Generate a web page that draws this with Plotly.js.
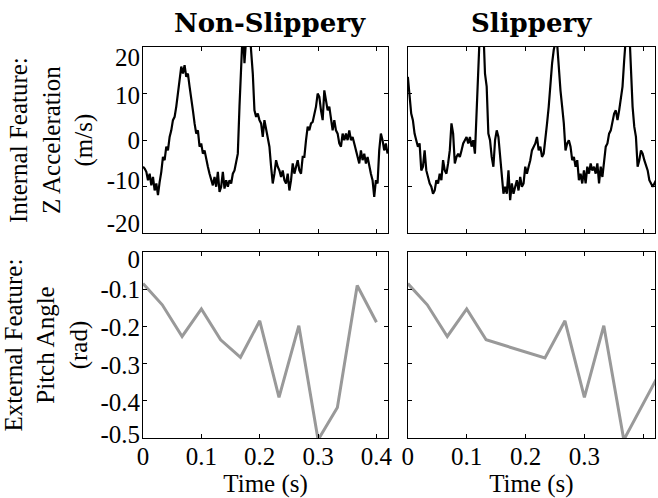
<!DOCTYPE html>
<html>
<head>
<meta charset="utf-8">
<script src="https://cdn.plot.ly/plotly-3.0.1.min.js"></script>
<style>html,body{margin:0;padding:0;background:#fff;}#chart{width:658px;height:498px;}</style>
</head>
<body>
<div id="chart"></div>
<script>
// ---- data ----
const columnTitles = ["Non-Slippery", "Slippery"];
const accSampleDt = 0.00285; // sample interval of the acceleration signal (s)
const accNonSlippery = [
 -5.7,-6.1,-6.8,-8.6,-7.2,-9.7,-7.9,-10.8,-9.3,-11.8,
 -9.0,-6.8,-3.6,-4.3,-1.4,-2.2,0.7,2.1,4.3,5.0,
 7.2,10.0,13.6,15.8,14.3,16.1,13.6,14.3,11.5,9.3,
 6.4,3.6,1.4,2.1,-1.4,-0.7,-2.9,-2.2,-4.3,-5.7,
 -7.2,-8.6,-9.7,-7.9,-10.0,-6.8,-11.1,-10.0,-6.8,-10.4,
 -8.6,-10.0,-8.6,-9.3,-7.2,-6.5,-4.3,-2.9,7.2,14.3,
 24,16.5,27,27,24,18.6,14.3,6.4,5.0,5.7,
 4.3,3.6,0.7,4.3,2.1,0,-1.4,-5.7,-9.3,-7.2,
 -4.3,-5.7,-6.5,-7.9,-6.5,-8.6,-9.3,-7.2,-10.8,-8.6,
 -5.0,-7.2,-5.7,-4.3,-6.5,-7.2,-3.6,-3.6,0,2.9,
 2.1,3.6,3.9,5.7,7.2,10.0,9.3,6.4,4.3,10.7,
 8.6,6.4,7.2,5.0,2.1,4.3,2.1,1.4,-0.7,-1.4,
 1.4,0,1.4,0,2.1,0,0.7,-0.7,-2.2,-3.6,
 -5.0,-2.2,-4.3,-2.9,-5.0,-3.6,-5.7,-7.2,-8.6,-12.2,
 -8.6,-9.3,-2.2,1.4,0,-2.2,-0.7,-2.9
];
const accSlippery = [
 13.6,10.0,5.7,4.3,1.4,0,-1.4,-0.7,-6.5,-5.7,
 -2.2,-6.5,-7.9,-9.3,-10.0,-11.5,-10.8,-8.6,-9.3,-7.2,
 -8.6,-4.3,-6.5,-7.2,-5.0,-2.2,3.6,1.4,-5.0,-3.6,
 -2.9,-3.6,-2.2,-0.7,0,0.7,-0.7,0.7,-1.4,0,
 -2.9,7.2,14.3,24,27,24,14.3,11.5,1.4,0,
 -3.6,-5.7,0,2.1,0.7,-3.6,-8.6,-11.5,-10.0,-11.5,
 -6.5,-12.9,-9.3,-11.5,-10.0,-8.6,-10.8,-7.9,-10.0,-9.3,
 -5.7,-7.2,-5.7,-4.3,-2.2,-1.4,-0.7,0.7,-2.2,-1.4,
 -3.6,-2.9,0,3.6,7.2,12.9,16.5,19.4,21,20.8,
 15.0,10.7,7.2,3.6,-2.2,-0.7,0,-1.4,-4.3,-3.6,
 -5.7,-4.3,-8.6,-7.2,-9.3,-6.5,-9.3,-5.7,-7.2,-5.0,
 -6.5,-5.7,-7.2,-5.0,-9.3,-5.7,-7.9,-5.0,-1.4,-0.7,
 1.4,2.1,4.3,5.7,6.4,4.3,6.4,9.3,11.5,17.2,
 24,27,24,14.3,7.2,2.9,0.7,-5.7,-4.3,-2.2,
 -2.9,-4.3,-5.7,-6.5,-8.6,-9.3,-10.0,-9.3,-8.6
];
const pitchTimeNonSlippery = [0, 0.033, 0.067, 0.1, 0.133, 0.167, 0.2, 0.233, 0.267, 0.3, 0.333, 0.367, 0.4];
const pitchNonSlippery = [-0.085, -0.142, -0.227, -0.153, -0.236, -0.283, -0.185, -0.391, -0.198, -0.505, -0.418, -0.090, -0.189];
const pitchTimeSlippery = [0, 0.033, 0.067, 0.1, 0.133, 0.233, 0.267, 0.3, 0.333, 0.367, 0.433];
const pitchSlippery = [-0.085, -0.142, -0.227, -0.153, -0.236, -0.285, -0.185, -0.391, -0.198, -0.505, -0.31];

const xTickVals = [0, 0.1, 0.2, 0.3, 0.4];
const xTickText = ["0", "0.1", "0.2", "0.3", "0.4"];
const accTickVals = [-20, -10, 0, 10, 20];
const accTickText = ["-20", "-10", "0", "10", "20"];
const pitchTickVals = [-0.5, -0.4, -0.3, -0.2, -0.1, 0];
const pitchTickText = ["-0.5", "-0.4", "-0.3", "-0.2", "-0.1", "0"];
const xTitle = "Time (s)";
const accTitle = "Internal Feature:<br>Z Acceleration<br>(m/s)";
const pitchTitle = "External Feature:<br>Pitch Angle<br>(rad)";

// ---- build ----
const serif = "'Liberation Serif', 'Times New Roman', serif";
const TICK_FONT = {family: serif, size: 25, color: "#000"};
const TITLE_FONT = {family: serif, size: 25, color: "#000"};
const PANEL_H = 186; // px height of a panel, used to nudge labels inward as in the reference
const accRange = [-20, 20], pitchRange = [-0.5, 0];
// label nudges in px (positive = up): the reference keeps its end labels inside the frame
const accLabelNudge = [10, 6, 0, -2, -10];
const pitchLabelNudge = [4, -1, -2, -1, 0, -7];
const nudged = (vals, nudges, range) => vals.map((v, i) => v + nudges[i] * (range[1] - range[0]) / PANEL_H);

const timesFor = arr => arr.map((_, i) => i * accSampleDt);
const traces = [
  {x: timesFor(accNonSlippery), y: accNonSlippery, xaxis: "x", yaxis: "y", type: "scatter", mode: "lines", line: {color: "#000", width: 2.2}},
  {x: timesFor(accSlippery), y: accSlippery, xaxis: "x2", yaxis: "y2", type: "scatter", mode: "lines", line: {color: "#000", width: 2.2}},
  {x: pitchTimeNonSlippery, y: pitchNonSlippery, xaxis: "x3", yaxis: "y3", type: "scatter", mode: "lines", line: {color: "#999999", width: 3}},
  {x: pitchTimeSlippery, y: pitchSlippery, xaxis: "x4", yaxis: "y4", type: "scatter", mode: "lines", line: {color: "#999999", width: 3}},
  // empty carriers so that the label-only overlay axes are drawn
  {x: [], y: [], xaxis: "x", yaxis: "y5", type: "scatter", mode: "lines", hoverinfo: "skip"},
  {x: [], y: [], xaxis: "x3", yaxis: "y6", type: "scatter", mode: "lines", hoverinfo: "skip"}
];
const axBase = {
  showline: true, linecolor: "#000", linewidth: 1, mirror: "ticks",
  ticks: "inside", ticklen: 4, tickcolor: "#000", tickwidth: 1,
  showgrid: false, zeroline: false, tickmode: "array",
  tickfont: TICK_FONT
};
const labelAx = {
  showline: false, ticks: "", showgrid: false, zeroline: false, tickmode: "array",
  tickfont: TICK_FONT, side: "left", fixedrange: true, autorange: false, ticklabelstandoff: 2
};
const xDomL = [0, 0.4788], xDomR = [0.5173, 1];
const yDomT = [0.5235, 1], yDomB = [0, 0.4757];
const layout = {
  width: 658, height: 498,
  margin: {l: 143, r: 3, t: 47, b: 60},
  paper_bgcolor: "#fff", plot_bgcolor: "#fff",
  showlegend: false,
  font: {family: serif, size: 24, color: "#000"},
  xaxis:  Object.assign({}, axBase, {domain: xDomL, anchor: "y",  range: [0, 0.42], tickvals: xTickVals, ticktext: xTickText, showticklabels: false}),
  xaxis2: Object.assign({}, axBase, {domain: xDomR, anchor: "y2", range: [0, 0.42], tickvals: xTickVals, ticktext: xTickText, showticklabels: false}),
  xaxis3: Object.assign({}, axBase, {domain: xDomL, anchor: "y3", range: [0, 0.42], tickvals: xTickVals, ticktext: xTickText, ticklabelstandoff: -4,
            title: {text: xTitle, font: TITLE_FONT, standoff: 7}}),
  xaxis4: Object.assign({}, axBase, {domain: xDomR, anchor: "y4", range: [0, 0.42], tickvals: xTickVals, ticktext: xTickText, ticklabelstandoff: -4,
            title: {text: xTitle, font: TITLE_FONT, standoff: 7}}),
  yaxis:  Object.assign({}, axBase, {domain: yDomT, anchor: "x",  range: accRange, tickvals: accTickVals, showticklabels: false}),
  yaxis2: Object.assign({}, axBase, {domain: yDomT, anchor: "x2", range: accRange, tickvals: accTickVals, showticklabels: false}),
  yaxis3: Object.assign({}, axBase, {domain: yDomB, anchor: "x3", range: pitchRange, tickvals: pitchTickVals, showticklabels: false}),
  yaxis4: Object.assign({}, axBase, {domain: yDomB, anchor: "x4", range: pitchRange, tickvals: pitchTickVals, showticklabels: false}),
  yaxis5: Object.assign({}, labelAx, {overlaying: "y", anchor: "x", range: accRange,
            tickvals: nudged(accTickVals, accLabelNudge, accRange), ticktext: accTickText,
            title: {text: accTitle, font: TITLE_FONT, standoff: 6}}),
  yaxis6: Object.assign({}, labelAx, {overlaying: "y3", anchor: "x3", range: pitchRange,
            tickvals: nudged(pitchTickVals, pitchLabelNudge, pitchRange), ticktext: pitchTickText,
            title: {text: pitchTitle, font: TITLE_FONT, standoff: 6}}),
  annotations: [
    {text: "<b>" + columnTitles[0] + "</b>", xref: "paper", yref: "paper", x: 0.2485, y: 1.0614, xanchor: "center", yanchor: "middle", showarrow: false,
     font: {family: "'DejaVu Serif', serif", size: 26, color: "#000"}},
    {text: "<b>" + columnTitles[1] + "</b>", xref: "paper", yref: "paper", x: 0.758, y: 1.0614, xanchor: "center", yanchor: "middle", showarrow: false,
     font: {family: "'DejaVu Serif', serif", size: 26, color: "#000"}}
  ]
};
Plotly.newPlot("chart", traces, layout, {staticPlot: true, displayModeBar: false});
</script>
</body>
</html>
